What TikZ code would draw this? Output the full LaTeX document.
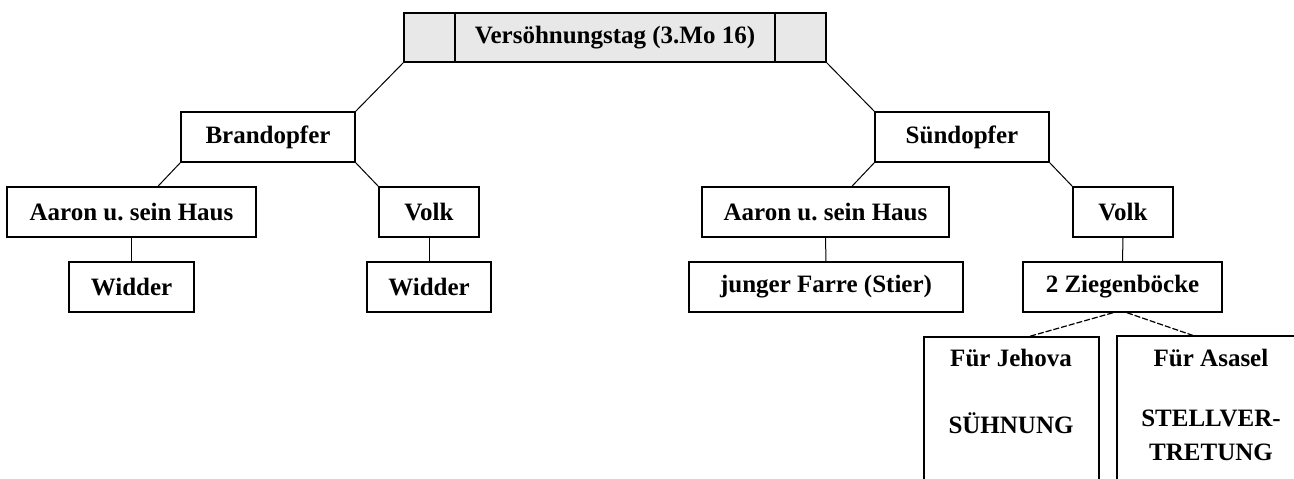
\documentclass[tikz,border=0pt]{standalone}
\usepackage{fontspec}
\setmainfont{Liberation Serif}
\usetikzlibrary{calc}
\definecolor{titlegray}{RGB}{232,232,232}
\tikzset{
  box/.style={draw, line width=1.5pt, inner sep=0pt, font=\bfseries\fontsize{25}{28}\selectfont, minimum height=50pt},
  conn/.style={line width=1pt},
  dconn/.style={line width=1.2pt, dash pattern=on 6pt off 2pt},
  txt/.style={inner sep=0pt, font=\bfseries\fontsize{25}{28}\selectfont},
  openbox/.style={line width=1.5pt}
}
\frenchspacing
\begin{document}
\begin{tikzpicture}[x=1pt,y=-1pt]
\useasboundingbox (0,0) rectangle (1294,479);
\clip (0,0) rectangle (1294,479);
\fill[white] (0,0) rectangle (1294,479);
% title
\node[box, fill=titlegray, minimum width=422pt, minimum height=49pt] (title) at (615,37.5) {};
\node[txt] (titletext) at (615,37.5) {Versöhnungstag (3.Mo 16)};
\draw[line width=1.5pt] (455,13) -- (455,62);
\draw[line width=1.5pt] (775,13) -- (775,62);
% left branch
\node[box, minimum width=174pt] (brand) at (268,137) {Brandopfer};
\node[box, minimum width=249pt] (aaronL) at (131.5,212) {Aaron u.\ sein Haus};
\node[box, minimum width=100pt] (volkL) at (429,212) {Volk};
\node[box, minimum width=125pt] (widderL) at (131.5,287) {Widder};
\node[box, minimum width=124pt] (widderR) at (429,287) {Widder};
% right branch
\node[box, minimum width=174pt] (suend) at (962,137) {Sündopfer};
\node[box, minimum width=247pt] (aaronR) at (825.5,212) {Aaron u.\ sein Haus};
\node[box, minimum width=100pt] (volkR) at (1123,212) {Volk};
\node[box, minimum width=274pt] (farre) at (826,287) {junger Farre (Stier)};
\node[box, minimum width=199pt] (ziegen) at (1122.5,287) {2 Ziegenböcke};
% open boxes
\node[inner sep=0pt, minimum width=175pt, minimum height=160pt] (jehova) at (1011.5,417) {};
\node[inner sep=0pt, minimum width=188pt, minimum height=160pt] (asasel) at (1211,416) {};
\draw[openbox] (jehova.south west) -- (jehova.north west) -- (jehova.north east) -- (jehova.south east);
\draw[openbox] (asasel.south west) -- (asasel.north west) -- (asasel.north east) -- (asasel.south east);
\node[txt] (j1) at (1011,358) {Für Jehova};
\node[txt] (j2) at (1011,423) {SÜHNUNG};
\node[txt] (a1) at (1211,358) {Für Asasel};
\node[txt] (a2) at (1211,418) {STELLVER-};
\node[txt] (a3) at (1211,452) {TRETUNG};
% connectors
\draw[conn] (title.south west) -- (brand.north east);
\draw[conn] (title.south east) -- (suend.north west);
\draw[conn] (brand.south west) -- ($(aaronL.north)+(26.5,0)$);
\draw[conn] (brand.south east) -- (volkL.north west);
\draw[conn] (aaronL.south) -- (widderL.north);
\draw[conn] (volkL.south) -- (widderR.north);
\draw[conn] (suend.south west) -- ($(aaronR.north)+(26.5,0)$);
\draw[conn] (suend.south east) -- (volkR.north west);
\draw[conn] (aaronR.south) -- (farre.north);
\draw[conn] (volkR.south) -- (ziegen.north);
\draw[dconn] ($(ziegen.south)+(-9.5,0)$) -- ($(jehova.north)+(16.5,0)$);
\draw[dconn] ($(ziegen.south)+(4.5,0)$) -- ($(asasel.north)+(-17,0)$);
\end{tikzpicture}
\end{document}
